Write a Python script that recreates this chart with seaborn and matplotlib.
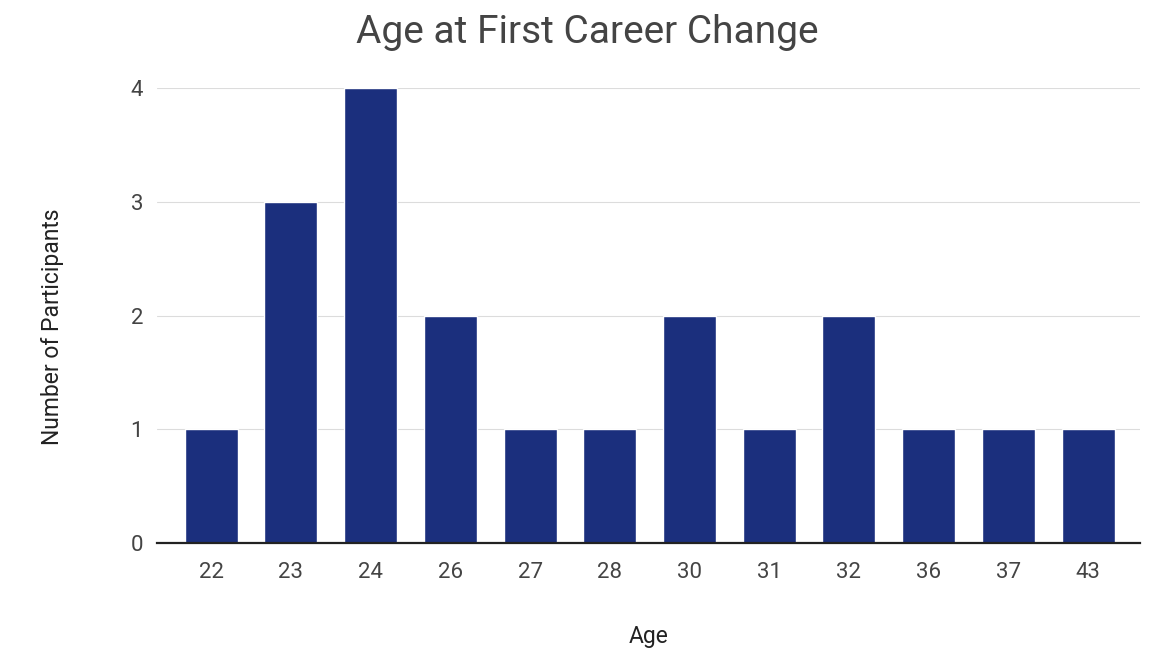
import matplotlib
matplotlib.use("Agg")
import matplotlib.pyplot as plt
import seaborn as sns
import pandas as pd

ages = ["22", "23", "24", "26", "27", "28", "30", "31", "32", "36", "37", "43"]
participants = [1, 3, 4, 2, 1, 1, 2, 1, 2, 1, 1, 1]
y_ticks = [0, 1, 2, 3, 4]

df = pd.DataFrame({"Age": ages, "Participants": participants})

sns.set_theme(style="white")
plt.rcParams["font.family"] = ["Roboto", "DejaVu Sans"]

text_color = "#444444"
bar_color = "#1b2f7d"

fig = plt.figure(figsize=(11.75, 6.56), dpi=100)
ax = fig.add_axes([0.1336, 0.1723, 0.8366, 0.6935])

sns.barplot(data=df, x="Age", y="Participants", color=bar_color,
            saturation=1, width=0.665, ax=ax, zorder=3)

ax.set_xlim(-0.68, 11.65)
ax.set_ylim(0, 4)
ax.set_yticks(y_ticks)
ax.yaxis.grid(True, color="#dcdcdc", linewidth=0.8, zorder=0)
ax.xaxis.grid(False)

for side in ["top", "right", "left"]:
    ax.spines[side].set_visible(False)
ax.spines["bottom"].set_color("#222222")
ax.spines["bottom"].set_linewidth(1.6)
ax.spines["bottom"].set_zorder(4)

ax.tick_params(axis="both", length=0, labelsize=16, labelcolor=text_color)
ax.tick_params(axis="x", pad=14)
ax.tick_params(axis="y", pad=10)

ax.set_xlabel("Age", fontsize=16.5, color="#222222", labelpad=30)
ax.set_ylabel("Number of Participants", fontsize=16.5, color="#222222", labelpad=48)
ax.yaxis.label.set_y(0.475)
fig.suptitle("Age at First Career Change", fontsize=28, color=text_color,
             y=0.978, x=0.5, va="top")

fig.savefig("out.png", dpi=100, facecolor="white")
